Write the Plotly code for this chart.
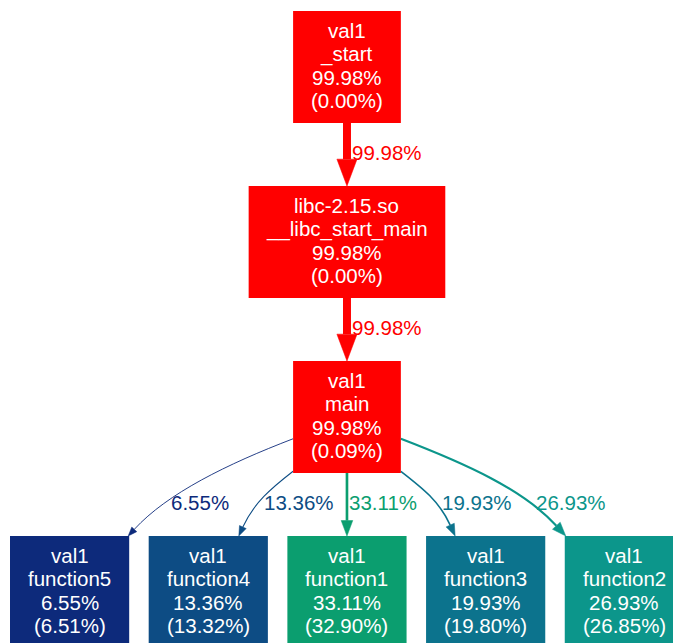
import colorsys
import math
import plotly.graph_objects as go

# ---------------- data ----------------
node_modules = ["val1", "libc-2.15.so", "val1", "val1", "val1", "val1", "val1", "val1"]
node_functions = ["_start", "__libc_start_main", "main", "function5", "function4",
                  "function1", "function3", "function2"]
node_total = [99.98, 99.98, 99.98, 6.55, 13.36, 33.11, 19.93, 26.93]
node_self = [0.00, 0.00, 0.09, 6.51, 13.32, 32.90, 19.80, 26.85]

edge_src = [0, 1, 2, 2, 2, 2, 2]
edge_dst = [1, 2, 3, 4, 5, 6, 7]
edge_weight = [99.98, 99.98, 6.55, 13.36, 33.11, 19.93, 26.93]

# ---------------- style / layout params ----------------
W_PX, H_PX = 673, 643
FONT = "Liberation Sans, Arial, sans-serif"
FONT_PX = 20.5
LINE_H = 23.3
PAD_X = 36
NODE_H = 112
RANK_GAP = 63
NODE_GAP = 19.5
MARGIN_L = 10
MARGIN_T = 11

# Arial / Liberation Sans advance widths (em)
CW = {c: 0.556 for c in "0123456789abdeghnopquv_"}
CW.update({".": 0.278, "%": 0.889, "(": 0.333, ")": 0.333, "-": 0.333, "c": 0.5,
           "f": 0.278, "i": 0.222, "j": 0.222, "k": 0.5, "l": 0.222, "m": 0.833,
           "r": 0.333, "s": 0.5, "t": 0.278, "v": 0.5, "w": 0.722, "x": 0.5,
           "y": 0.5, "z": 0.5})


def text_w(s):
    return sum(CW.get(ch, 0.556) for ch in s) * FONT_PX


def temp_color(pct):
    w = pct / 100.0
    h = 2.0 / 3.0 * (1.0 - w)
    s = 0.80 + 0.20 * w
    l = 0.25 + 0.25 * w
    r, g, b = colorsys.hls_to_rgb(h, l, s)
    return "rgb(%d,%d,%d)" % (round(r * 255), round(g * 255), round(b * 255))


def node_lines(i):
    return [node_modules[i], node_functions[i], "%.2f%%" % node_total[i],
            "(%.2f%%)" % node_self[i]]


def cubic(p, t):
    mt = 1 - t
    return (mt ** 3 * p[0][0] + 3 * mt * mt * t * p[1][0] + 3 * mt * t * t * p[2][0] + t ** 3 * p[3][0],
            mt ** 3 * p[0][1] + 3 * mt * mt * t * p[1][1] + 3 * mt * t * t * p[2][1] + t ** 3 * p[3][1])


n = len(node_functions)
# ranks by BFS depth
rank = [None] * n
rank[0] = 0
changed = True
while changed:
    changed = False
    for s, d in zip(edge_src, edge_dst):
        if rank[s] is not None and rank[d] is None:
            rank[d] = rank[s] + 1
            changed = True
n_ranks = max(rank) + 1
rank_nodes = [[] for _ in range(n_ranks)]
for s_, d_ in [(None, 0)] + list(zip(edge_src, edge_dst)):
    if d_ not in rank_nodes[rank[d_]]:
        rank_nodes[rank[d_]].append(d_)

widths = [max(text_w(t) for t in node_lines(i)) + PAD_X for i in range(n)]
rank_w = [sum(widths[i] for i in r) + NODE_GAP * (len(r) - 1) for r in rank_nodes]
center_x = MARGIN_L + max(rank_w) / 2.0

cx = [0.0] * n
cy = [0.0] * n
for k, r in enumerate(rank_nodes):
    x = center_x - rank_w[k] / 2.0
    for i in r:
        cx[i] = x + widths[i] / 2.0
        x += widths[i] + NODE_GAP
        cy[i] = MARGIN_T + k * (NODE_H + RANK_GAP) + NODE_H / 2.0

shapes = []
annotations = []

# ---------------- edges ----------------
for s, d, wt in zip(edge_src, edge_dst, edge_weight):
    col = temp_color(wt)
    pw = max(wt / 100.0 * 8.0, 0.9)
    hw_c = widths[d] / 2.0
    ex = cx[d] + max(-(hw_c - 1), min(hw_c - 1, 0.22 * (cx[s] - cx[d])))
    ey = cy[d] - NODE_H / 2.0
    ax, ay = cx[s], cy[s] - 10
    ddx, ddy = ex - ax, ey - ay
    bottom = cy[s] + NODE_H / 2.0
    tcand = [(bottom - ay) / ddy]
    if abs(ddx) > 1e-9:
        tcand.append((widths[s] / 2.0) / abs(ddx))
    t0 = min(tcand)
    sx, sy = ax + t0 * ddx, ay + t0 * ddy
    dx, dy = ex - sx, ey - sy
    p1 = (sx + 0.4 * dx, sy + 0.26 * dy)
    p2 = (ex - 0.2 * dx, ey - 0.37 * dy)
    ux, uy = ex - p2[0], ey - p2[1]
    ul = math.hypot(ux, uy)
    ux, uy = ux / ul, uy / ul
    L = 9.5 * math.sqrt(pw)
    Wd = 0.75 * L
    bx, by = ex - L * ux, ey - L * uy
    p2s = (p2[0] - L * ux, p2[1] - L * uy)
    pts = [(sx, sy), p1, p2s, (bx, by)]
    shapes.append(dict(type="path", xref="x", yref="y",
                       path="M %.2f,%.2f C %.2f,%.2f %.2f,%.2f %.2f,%.2f" % (
                           sx, sy, p1[0], p1[1], p2s[0], p2s[1], bx, by),
                       line=dict(color=col, width=pw)))
    nx, ny = -uy, ux
    shapes.append(dict(type="path", xref="x", yref="y",
                       path="M %.2f,%.2f L %.2f,%.2f L %.2f,%.2f Z" % (
                           ex, ey, bx + nx * Wd / 2, by + ny * Wd / 2,
                           bx - nx * Wd / 2, by - ny * Wd / 2),
                       fillcolor=col, line=dict(color=col, width=0.5)))
    # label, placed just right of where the edge crosses the label row
    ly = (bottom + ey) / 2.0 - 2
    lo, hi = 0.0, 1.0
    for _ in range(50):
        m = (lo + hi) / 2
        if cubic(pts, m)[1] < ly:
            lo = m
        else:
            hi = m
    xv = cubic(pts, (lo + hi) / 2)[0]
    annotations.append(dict(x=xv + pw / 2 + 4 * (abs(dx) > 1) - 1, y=ly, xref="x", yref="y",
                            text="%.2f%%" % wt, showarrow=False, xanchor="left",
                            yanchor="middle",
                            font=dict(family=FONT, size=FONT_PX, color=col)))

# ---------------- nodes ----------------
for i in range(n):
    col = temp_color(node_total[i])
    shapes.append(dict(type="rect", xref="x", yref="y",
                       x0=cx[i] - widths[i] / 2, x1=cx[i] + widths[i] / 2,
                       y0=cy[i] - NODE_H / 2, y1=cy[i] + NODE_H / 2,
                       fillcolor=col, line=dict(color=col, width=0)))
    for j, t in enumerate(node_lines(i)):
        annotations.append(dict(x=cx[i], y=cy[i] + (j - 1.5) * LINE_H - 1.5,
                                xref="x", yref="y", text=t, showarrow=False,
                                xanchor="center", yanchor="middle",
                                font=dict(family=FONT, size=FONT_PX, color="white")))

fig = go.Figure()
fig.add_trace(go.Scatter(x=[0, W_PX], y=[0, H_PX], mode="markers",
                         marker=dict(opacity=0), hoverinfo="skip", showlegend=False))
fig.update_layout(
    width=W_PX, height=H_PX, margin=dict(l=0, r=0, t=0, b=0),
    paper_bgcolor="white", plot_bgcolor="white",
    xaxis=dict(range=[0, W_PX], visible=False, fixedrange=True),
    yaxis=dict(range=[H_PX, 0], visible=False, fixedrange=True),
    shapes=shapes, annotations=annotations, showlegend=False,
)
fig.write_html("out.html", config={"displayModeBar": False},
               post_script="document.body.style.margin='0';document.body.style.overflow='hidden';")
